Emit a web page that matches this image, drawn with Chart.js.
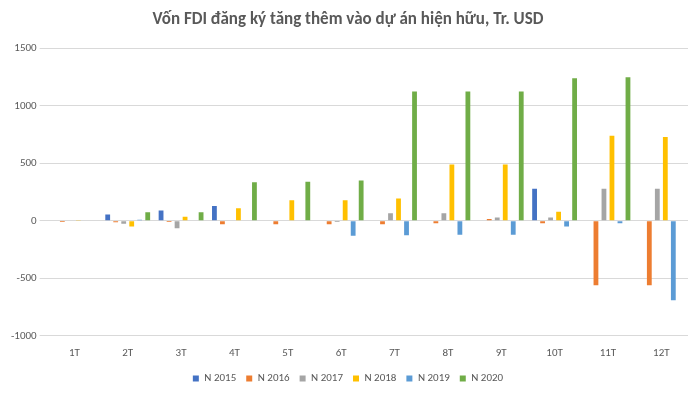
<!DOCTYPE html>
<html><head><meta charset="utf-8">
<script src="https://cdn.jsdelivr.net/npm/chart.js@4"></script>
<style>html,body{margin:0;background:#fff}#w{width:700px;height:400px}</style>
</head><body><div id="w"><canvas id="c"></canvas></div>
<script>
const categories = ["1T","2T","3T","4T","5T","6T","7T","8T","9T","10T","11T","12T"];
const n2015 = [0,55,90,130,0,0,0,0,0,280,0,0];
const n2016 = [-10,-12,-10,-30,-30,-30,-30,-20,15,-20,-560,-560];
const n2017 = [0,-25,-65,0,0,-10,65,65,30,30,280,280];
const n2018 = [8,-50,35,110,180,180,195,490,490,80,740,730];
const n2019 = [0,10,0,0,0,-130,-125,-120,-120,-50,-20,-690];
const n2020 = [0,75,75,335,340,350,1125,1125,1125,1240,1250,0];
const names = ["N 2015","N 2016","N 2017","N 2018","N 2019","N 2020"];
const colors = ["#4472C4","#ED7D31","#A5A5A5","#FFC000","#5B9BD5","#70AD47"];
const series = [n2015,n2016,n2017,n2018,n2019,n2020];
Chart.defaults.font.family = "Calibri, Carlito, 'Liberation Sans', sans-serif";
Chart.defaults.color = "#595959";
new Chart(document.getElementById("c"), {
  type: "bar",
  data: { labels: categories, datasets: series.map((d,i)=>({label:names[i],data:d,backgroundColor:colors[i],barPercentage:0.6,categoryPercentage:0.9})) },
  options: {
    responsive:true, maintainAspectRatio:false, animation:false,
    layout:{padding:{left:8,right:12,top:4,bottom:6}},
    plugins:{
      title:{display:true,text:"Vốn FDI đăng ký tăng thêm vào dự án hiện hữu, Tr. USD",font:{size:17,weight:"bold"},color:"#595959",padding:{top:6,bottom:18}},
      legend:{position:"bottom",labels:{boxWidth:6,boxHeight:6,font:{size:11},padding:10}}
    },
    scales:{
      x:{grid:{display:false},border:{display:false},ticks:{font:{size:11}}},
      y:{min:-1000,max:1500,ticks:{stepSize:500,font:{size:11},callback:v=>String(v)},grid:{color:"#d9d9d9"},border:{display:false}}
    }
  }
});
</script></body></html>
